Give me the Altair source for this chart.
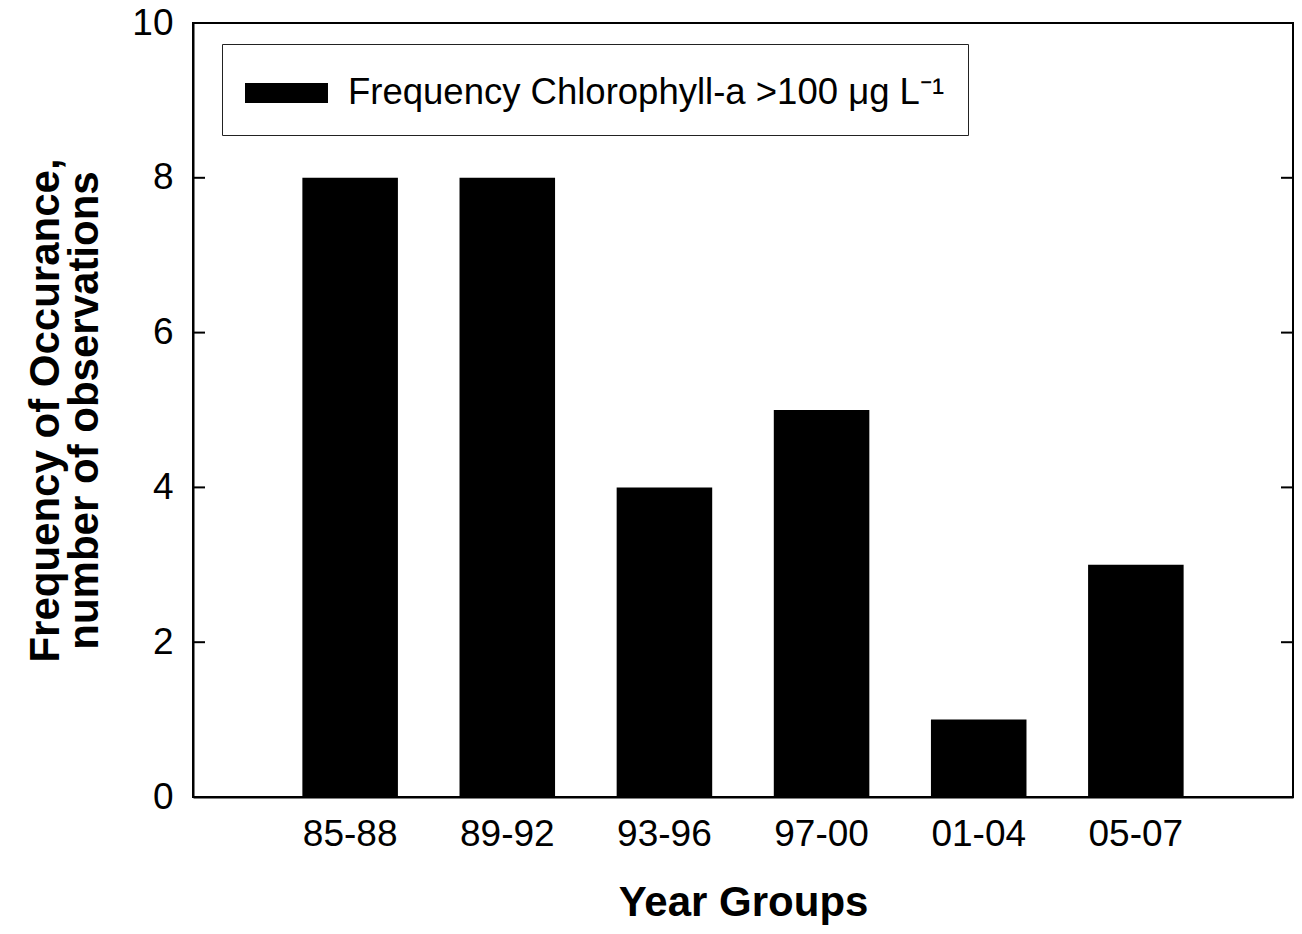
import altair as alt
import pandas as pd

categories = ["85-88", "89-92", "93-96", "97-00", "01-04", "05-07"]
values = [8, 8, 4, 5, 1, 3]
series_name = "Frequency Chlorophyll-a >100 \u03bcg L\u207b\u00b9"
y_ticks = [0, 2, 4, 6, 8, 10]

W, H = 1100, 774
FONT = "Liberation Sans"

bars_df = pd.DataFrame({"group": categories, "count": values, "series": [series_name] * len(categories)})
ticks_df = pd.DataFrame({"t": y_ticks})

yscale = alt.Scale(domain=[0, 10], nice=False, zero=True)
yaxis = alt.Axis(title=["Frequency of Occurance,", "number of observations"],
                 values=y_ticks, ticks=False, tickSize=0, labelPadding=20,
                 titlePadding=25, grid=False, domainWidth=2, domainColor="black",
                 titleLineHeight=39)

bars = alt.Chart(bars_df).mark_bar(color="black").encode(
    x=alt.X("group:N", sort=categories,
            scale=alt.Scale(paddingInner=0.392, paddingOuter=0.696),
            axis=alt.Axis(title="Year Groups", labelAngle=0, ticks=False, tickSize=0,
                          labelPadding=19, titlePadding=30, domainWidth=2, domainColor="black")),
    y=alt.Y("count:Q", scale=yscale, axis=yaxis),
    color=alt.Color("series:N", scale=alt.Scale(range=["black"]),
                    legend=alt.Legend(title=None, orient="none", legendX=29, legendY=21,
                                      strokeColor="#222", padding=23,
                                      symbolType="M-1,-0.385H2.192V0.385H-1Z",
                                      symbolSize=2704, symbolStrokeWidth=0,
                                      symbolFillColor="black", labelOffset=51,
                                      labelFontSize=36.5, labelFont=FONT, labelColor="black",
                                      labelLimit=1000)),
)

left_ticks = alt.Chart(ticks_df).mark_rule(color="black", strokeWidth=2).encode(
    y=alt.Y("t:Q", scale=yscale, axis=yaxis),
    x=alt.value(0), x2=alt.value(12),
)
right_ticks = alt.Chart(ticks_df).mark_rule(color="black", strokeWidth=2).encode(
    y=alt.Y("t:Q", scale=yscale, axis=yaxis),
    x=alt.value(W - 12), x2=alt.value(W),
)

chart = alt.layer(bars, left_ticks, right_ticks).properties(
    width=W, height=H,
    autosize=alt.AutoSizeParams(type="none"),
    padding={"left": 185, "top": 15, "right": 1, "bottom": 129},
).configure_view(
    stroke="black", strokeWidth=2
).configure_axis(
    labelFont=FONT, labelFontSize=37, labelColor="black",
    titleFont=FONT, titleFontSize=42, titleFontWeight="bold", titleColor="black",
    grid=False,
)

chart.save("out.html", embed_options={"renderer": "svg", "actions": False})
